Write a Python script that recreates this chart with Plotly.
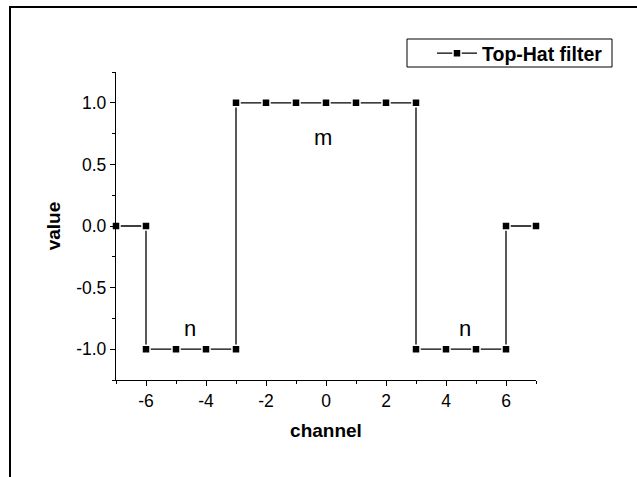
import plotly.graph_objects as go

channel = [-7, -6, -6, -5, -4, -3, -3, -2, -1, 0, 1, 2, 3, 3, 4, 5, 6, 6, 7]
value = [0, 0, -1, -1, -1, -1, 1, 1, 1, 1, 1, 1, 1, -1, -1, -1, -1, 0, 0]
series_name = "Top-Hat filter"
x_ticks = [-6, -4, -2, 0, 2, 4, 6]
x_ticktext = ["-6", "-4", "-2", "0", "2", "4", "6"]
y_ticks = [-1.0, -0.5, 0.0, 0.5, 1.0]
y_ticktext = ["-1.0", "-0.5", "0.0", "0.5", "1.0"]
labels = [("m", -0.1, 0.72), ("n", -4.53, -0.83), ("n", 4.63, -0.83)]

FONT = "Arial, Liberation Sans, sans-serif"
W, H = 637, 477
L, R, T, B = 116, 101, 72, 97
pw, ph = W - L - R, H - T - B


def px_x(p):
    return (p - L) / pw


def px_y(p):
    return (ph + T - p) / ph


fig = go.Figure()
fig.add_trace(go.Scatter(
    x=channel, y=value, mode="lines+markers", name="<b>" + series_name + "</b>",
    line=dict(color="black", width=1.3),
    marker=dict(symbol="square", size=8, color="black",
                line=dict(color="white", width=1.5)),
    cliponaxis=False,
))

for txt, xx, yy in labels:
    fig.add_annotation(x=xx, y=yy, text=txt, showarrow=False,
                       font=dict(family=FONT, size=22, color="black"))

# outer frame (extends past right/bottom edges)
fig.add_shape(type="rect", xref="paper", yref="paper",
              x0=px_x(10), x1=px_x(W + 20), y0=px_y(H + 20), y1=px_y(7),
              line=dict(color="black", width=2), fillcolor="rgba(0,0,0,0)")
# legend box
fig.add_shape(type="rect", xref="paper", yref="paper",
              x0=px_x(407), x1=px_x(612), y0=px_y(67), y1=px_y(39),
              line=dict(color="black", width=1), fillcolor="rgba(0,0,0,0)")

axis_common = dict(
    showgrid=False, zeroline=False, showline=True, linecolor="black", linewidth=1.4,
    ticks="outside", ticklen=5, tickwidth=1.4, tickcolor="black",
    tickfont=dict(family=FONT, size=17.5, color="black"),
    mirror=False,
)

fig.update_xaxes(range=[-7, 7], tickvals=x_ticks, ticktext=x_ticktext,
                 minor=dict(tickvals=[-7, -5, -3, -1, 1, 3, 5, 7], ticks="outside",
                            ticklen=3, tickwidth=1.4, tickcolor="black"),
                 title=dict(text="<b>channel</b>", standoff=13,
                            font=dict(family=FONT, size=19, color="black")),
                 **axis_common)
fig.update_yaxes(range=[-1.25, 1.25], tickvals=y_ticks, ticktext=y_ticktext,
                 minor=dict(tickvals=[-1.25, -0.75, -0.25, 0.25, 0.75, 1.25], ticks="outside",
                            ticklen=3, tickwidth=1.4, tickcolor="black"),
                 title=dict(text="<b>value</b>", standoff=10,
                            font=dict(family=FONT, size=19, color="black")),
                 **axis_common)

fig.update_layout(
    width=W, height=H,
    margin=dict(l=L, r=R, t=T, b=B, pad=0, autoexpand=False),
    paper_bgcolor="white", plot_bgcolor="white",
    showlegend=True,
    legend=dict(x=px_x(432), y=px_y(34), xanchor="left", yanchor="top",
                borderwidth=0, bgcolor="rgba(0,0,0,0)",
                font=dict(family=FONT, size=19.5, color="black"),
                itemwidth=40, tracegroupgap=0),
)

fig.write_html("out.html", config={"displayModeBar": False},
               post_script="document.body.style.margin='0px';")
